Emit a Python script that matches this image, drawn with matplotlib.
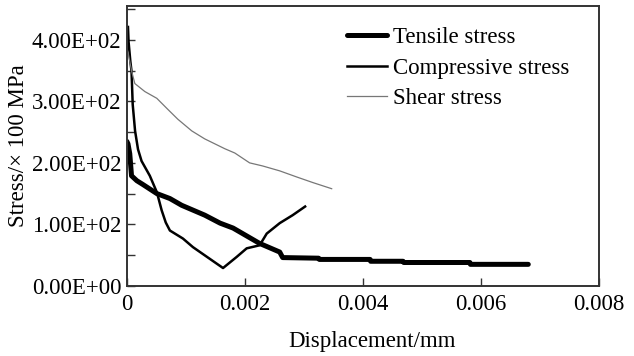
import matplotlib
matplotlib.use("Agg")
import matplotlib.pyplot as plt
from matplotlib.ticker import FuncFormatter, MultipleLocator

plt.rcParams['font.family'] = ['Liberation Serif', 'DejaVu Serif']

# displacement (mm) / stress values
tensile_x = [0, 0.00002, 0.00005, 0.00008, 0.00017, 0.00027, 0.00051, 0.00073,
             0.00093, 0.00132, 0.00158, 0.0018, 0.00225, 0.00259, 0.00264,
             0.00325, 0.00326, 0.00412, 0.00413, 0.00468, 0.00469, 0.00581,
             0.00582, 0.0068]
tensile_y = [235, 231, 215, 179, 171, 165, 150, 142, 131, 115, 102, 94, 69, 55,
             46, 45, 43, 43, 40, 40, 38, 38, 35, 35]

comp_x = [0.00002, 0.00003, 0.00006, 0.00008, 0.0001, 0.00014, 0.00019, 0.00025,
          0.00039, 0.00051, 0.00059, 0.00066, 0.00073, 0.00095, 0.00112,
          0.00136, 0.00163, 0.00186, 0.00203, 0.00225, 0.00237, 0.00259,
          0.00281, 0.00302]
comp_y = [421, 397, 365, 349, 295, 252, 222, 203, 179, 152, 123, 103, 90, 77,
          63, 47, 29, 47, 61, 66, 85, 102, 115, 129]

shear_x = [0.00002, 0.000085, 0.000136, 0.000305, 0.000508, 0.000695, 0.000864,
           0.0011, 0.00132, 0.00166, 0.00183, 0.00208, 0.0023, 0.00259,
           0.00288, 0.00315, 0.00347]
shear_y = [380, 348, 329, 316, 305, 287, 271, 252, 239, 223, 216, 200, 195,
           187, 177, 168, 158]

x_ticks = [0, 0.002, 0.004, 0.006, 0.008]
y_ticks = [0, 100, 200, 300, 400]

fig = plt.figure(figsize=(6.34, 3.56), dpi=100)
ax = fig.add_axes([0.2, 0.197, 0.745, 0.786])

ax.plot(tensile_x, tensile_y, color='black', lw=3.6, solid_capstyle='round',
        label='Tensile stress')
ax.plot(comp_x, comp_y, color='black', lw=1.8, label='Compressive stress')
ax.plot(shear_x, shear_y, color='#777777', lw=0.9, label='Shear stress')

ax.set_xlim(0, 0.008)
ax.set_ylim(0, 455)
ax.set_xticks(x_ticks)
ax.set_yticks(y_ticks)
ax.yaxis.set_minor_locator(MultipleLocator(50))
ax.xaxis.set_major_formatter(FuncFormatter(lambda v, p: '0' if v == 0 else f'{v:.3f}'))
ax.yaxis.set_major_formatter(FuncFormatter(lambda v, p: f'{v:.2E}'))
ax.tick_params(which='both', direction='in', length=6, width=1, color='#333333',
               labelsize=16.5, pad=4)
ax.tick_params(axis='x', pad=6)

for s in ax.spines.values():
    s.set_linewidth(1.4)
    s.set_color('#333333')

ax.set_xlabel('Displacement/mm', fontsize=16.5, labelpad=10)
ax.xaxis.set_label_coords(0.52, -0.16)
ax.set_ylabel('Stress/\u00d7 100 MPa', fontsize=16.5, labelpad=2)

ax.legend(loc='upper left', bbox_to_anchor=(0.466, 0.925), frameon=False,
          fontsize=16.5, handlelength=1.75, handletextpad=0.25, labelspacing=0.42,
          borderaxespad=0.0, borderpad=0.0)

fig.savefig('out.png', dpi=100)
